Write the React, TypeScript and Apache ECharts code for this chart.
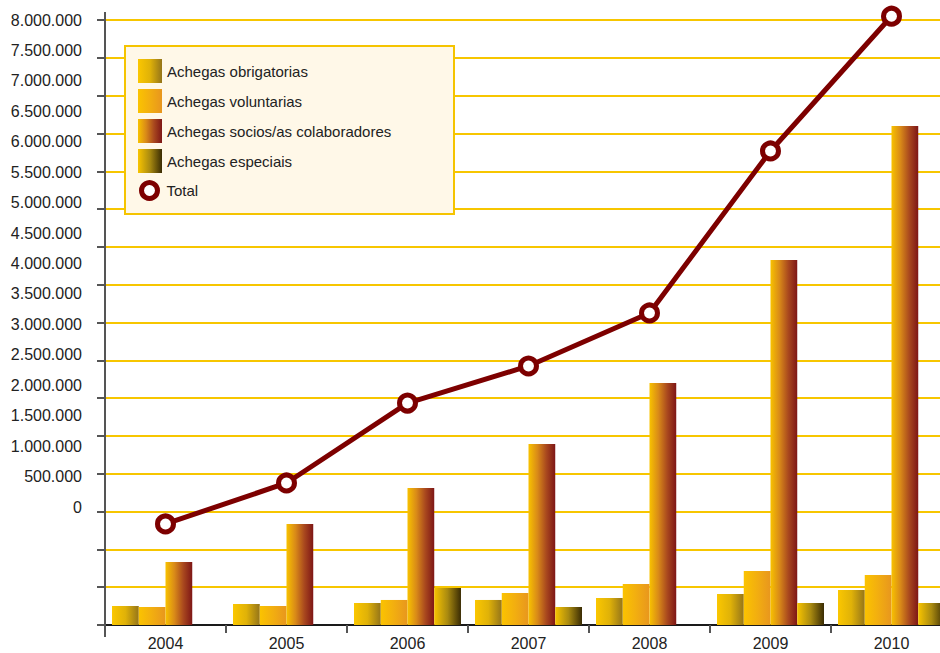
import React, { useEffect, useRef } from "react";
import * as echarts from "echarts";

const years = ["2004", "2005", "2006", "2007", "2008", "2009", "2010"];
const obrigatorias = [251000, 278000, 291000, 331000, 357000, 410000, 463000];
const voluntarias = [238000, 251000, 331000, 423000, 542000, 714000, 661000];
const socios = [833000, 1336000, 1812000, 2393000, 3200000, 4826000, 6598000];
const especiais = [0, 0, 489000, 238000, 0, 291000, 291000];
const totals = [1336000, 1878000, 2935000, 3425000, 4126000, 6268000, 8050000];
const seriesNames = [
  "Achegas obrigatorias",
  "Achegas voluntarias",
  "Achegas socios/as colaboradores",
  "Achegas especiais",
  "Total",
];

const FONT = "'Liberation Sans', Arial, sans-serif";

const grad = (stops: string[]) =>
  new echarts.graphic.LinearGradient(
    0,
    0,
    1,
    0,
    stops.map((c, i) => ({ offset: i / (stops.length - 1), color: c }))
  );

const fmt = (v: number) =>
  String(Math.round(v)).replace(/\B(?=(\d{3})+(?!\d))/g, ".");

export default function App() {
  const ref = useRef<HTMLDivElement>(null);
  useEffect(() => {
    if (!ref.current) return;
    const chart = echarts.init(ref.current, null, { renderer: "svg" });
    const barBase = {
      type: "bar",
      xAxisIndex: 0,
      yAxisIndex: 0,
      barGap: "0%",
      barCategoryGap: "11.6%",
      emphasis: { disabled: true },
    };
    chart.setOption({
      animation: false,
      backgroundColor: "#ffffff",
      textStyle: { fontFamily: FONT },
      grid: [
        { left: 105, top: 20, width: 847, height: 605 },
        { left: 105, top: 20, width: 847, height: 487 },
      ],
      xAxis: [
        {
          type: "category",
          gridIndex: 0,
          data: years,
          axisLine: { show: true, lineStyle: { color: "#1a1a1a", width: 2 } },
          axisTick: { show: true, length: 8, lineStyle: { color: "#555", width: 2 } },
          axisLabel: { color: "#222", fontSize: 16, fontFamily: FONT, margin: 10 },
        },
        { type: "value", gridIndex: 1, show: false, min: 0, max: 1 },
      ],
      yAxis: [
        {
          type: "value",
          gridIndex: 0,
          min: 0,
          max: 8000000,
          interval: 500000,
          axisLine: { show: true, lineStyle: { color: "#555", width: 2 } },
          axisTick: { show: true, length: 8, lineStyle: { color: "#555", width: 2 } },
          axisLabel: { show: false },
          splitLine: { show: true, lineStyle: { color: "#f7c600", width: 2 } },
        },
        {
          type: "value",
          gridIndex: 1,
          min: 0,
          max: 8000000,
          interval: 500000,
          axisLine: { show: false },
          axisTick: { show: false },
          splitLine: { show: false },
          axisLabel: {
            show: true,
            color: "#222",
            fontSize: 16,
            fontFamily: FONT,
            margin: 23,
            formatter: (v: number) => fmt(v),
          },
        },
      ],
      legend: [
        {
          data: seriesNames.slice(0, 4).map((n) => ({ name: n, icon: "rect" })),
          orient: "vertical",
          left: 138,
          top: 59,
          padding: 0,
          itemWidth: 24,
          itemHeight: 24,
          itemGap: 6,
          selectedMode: false,
          z: 5,
          textStyle: { color: "#222", fontSize: 15, fontFamily: FONT },
        },
        {
          data: [
            {
              name: "Total",
              icon: "circle",
              itemStyle: { color: "#ffffff", borderColor: "#7d0000", borderWidth: 5 },
            },
          ],
          orient: "vertical",
          left: 139,
          top: 180,
          padding: 0,
          itemWidth: 24,
          itemHeight: 16,
          selectedMode: false,
          z: 5,
          textStyle: { color: "#222", fontSize: 15, fontFamily: FONT },
        },
      ],
      graphic: [
        {
          type: "rect",
          z: 3,
          shape: { x: 125, y: 46, width: 329, height: 168 },
          style: { fill: "#fff8e8", stroke: "#f5c400", lineWidth: 2 },
        },
        {
          type: "line",
          z: 3,
          shape: { x1: 105, y1: 12, x2: 105, y2: 21 },
          style: { stroke: "#555", lineWidth: 2 },
        },
        {
          type: "line",
          z: 3,
          shape: { x1: 105, y1: 624, x2: 105, y2: 637 },
          style: { stroke: "#555", lineWidth: 2 },
        },
      ],
      series: [
        {
          ...barBase,
          name: seriesNames[0],
          data: obrigatorias,
          itemStyle: { color: grad(["#fbc700", "#e0b208", "#957519"]) },
        },
        {
          ...barBase,
          name: seriesNames[1],
          data: voluntarias,
          itemStyle: { color: grad(["#fbc300", "#f2ae10", "#e8961e"]) },
        },
        {
          ...barBase,
          name: seriesNames[2],
          data: socios,
          itemStyle: { color: grad(["#f8c200", "#d98a18", "#a9481e", "#7e1616"]) },
        },
        {
          ...barBase,
          name: seriesNames[3],
          data: especiais,
          itemStyle: { color: grad(["#f8c400", "#a98a10", "#3a2c04"]) },
        },
        {
          type: "line",
          name: seriesNames[4],
          xAxisIndex: 0,
          yAxisIndex: 0,
          data: totals,
          clip: false,
          z: 6,
          symbol: "circle",
          symbolSize: 16,
          emphasis: { disabled: true },
          lineStyle: { color: "#7d0000", width: 5 },
          itemStyle: { color: "#ffffff", borderColor: "#7d0000", borderWidth: 5 },
        },
      ],
    });
    return () => chart.dispose();
  }, []);
  return (
    <div
      style={{
        position: "fixed",
        left: 0,
        top: 0,
        width: 940,
        height: 653,
        overflow: "hidden",
        background: "#fff",
      }}
    >
      <div ref={ref} style={{ width: 970, height: 653 }} />
    </div>
  );
}
